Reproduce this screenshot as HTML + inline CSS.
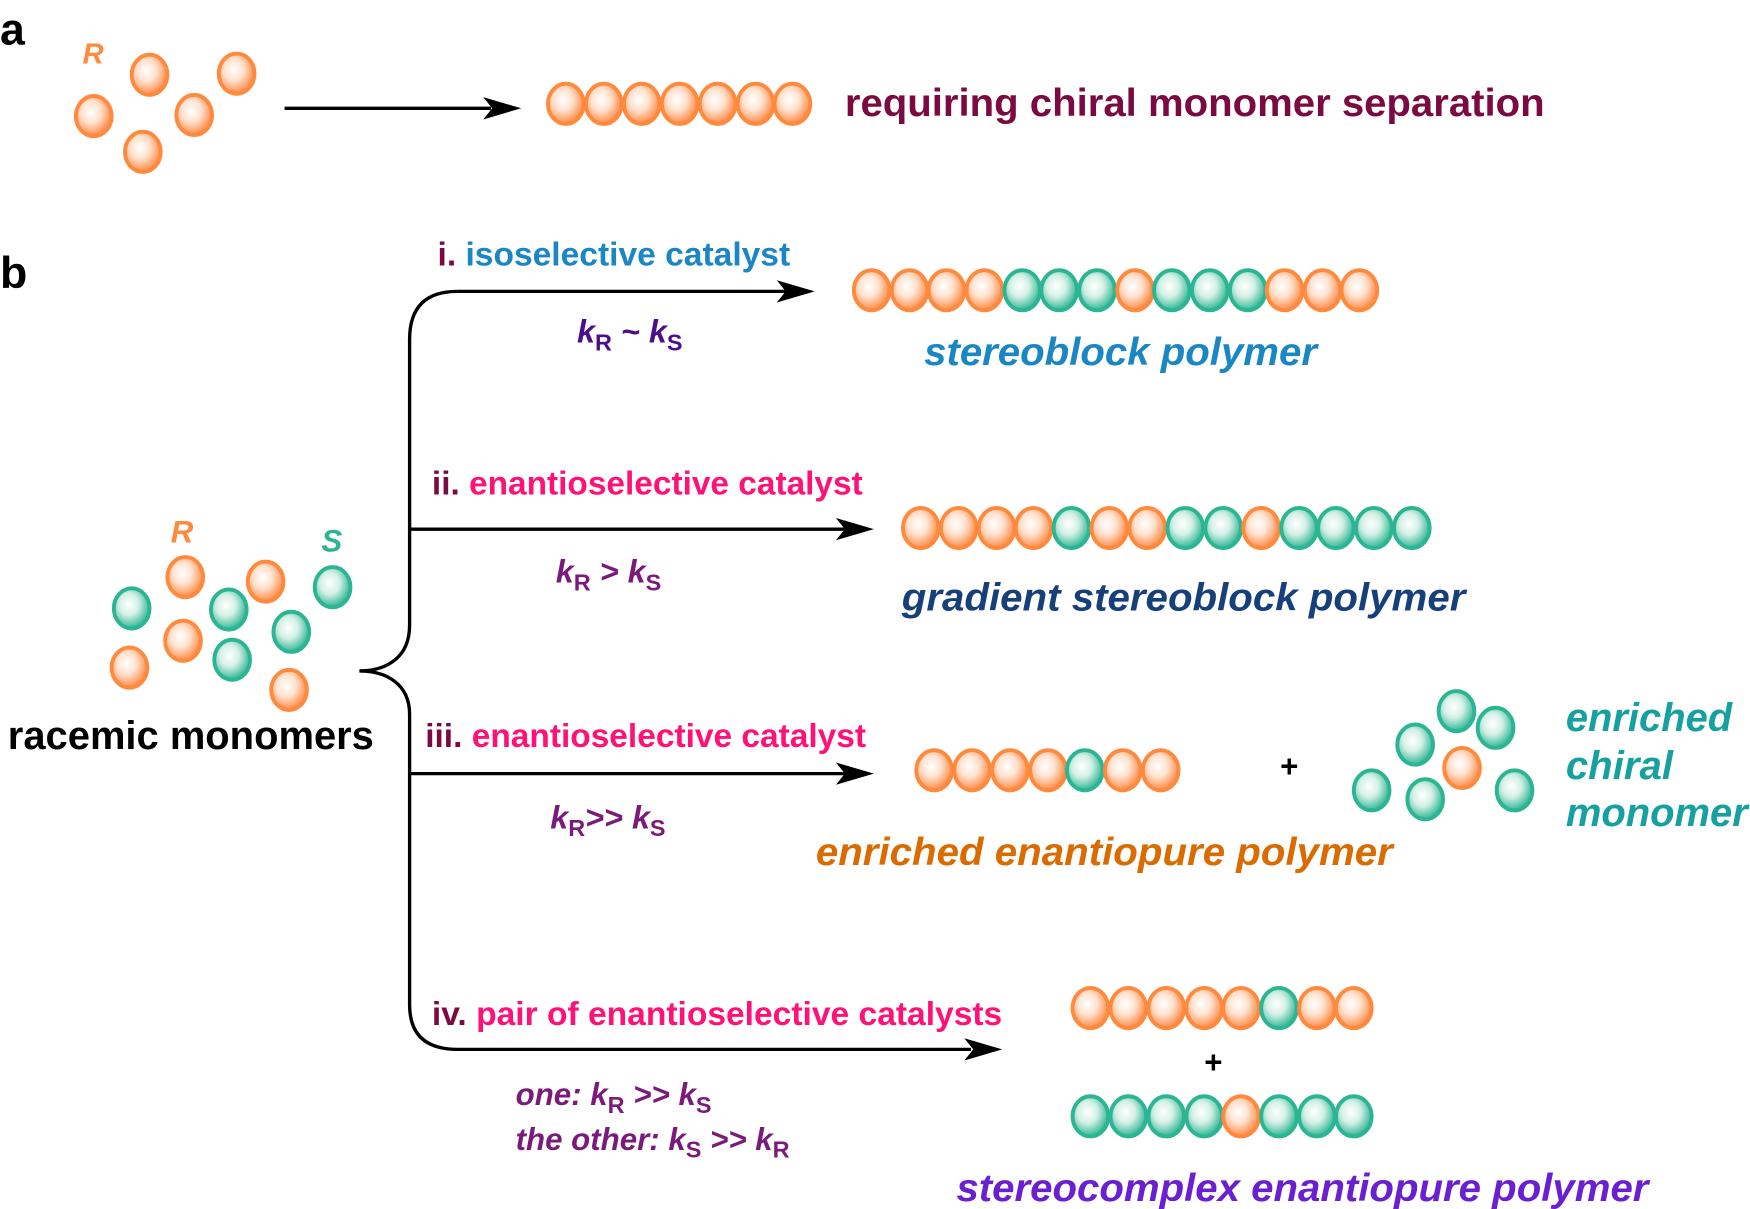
<!DOCTYPE html>
<html><head><meta charset="utf-8"><style>
html,body{margin:0;padding:0;background:#fff;}
svg{display:block;font-family:"Liberation Sans",Arial,sans-serif;font-weight:bold;}
</style></head><body>
<svg width="1750" height="1209" viewBox="0 0 1568 1083" preserveAspectRatio="none" xmlns="http://www.w3.org/2000/svg">
<defs>
<radialGradient id="go" cx="0.42" cy="0.4" r="0.6"><stop offset="0" stop-color="#fff"/><stop offset="0.45" stop-color="#ffe2cf"/><stop offset="1" stop-color="#ff8a45"/></radialGradient>
<radialGradient id="gg" cx="0.42" cy="0.4" r="0.6"><stop offset="0" stop-color="#fff"/><stop offset="0.45" stop-color="#d4f0e6"/><stop offset="1" stop-color="#30b795"/></radialGradient>
<symbol id="o" overflow="visible"><ellipse cx="0" cy="0" rx="16" ry="18" fill="url(#go)" stroke="#ff8a3d" stroke-width="3.5"/></symbol>
<symbol id="g" overflow="visible"><ellipse cx="0" cy="0" rx="16" ry="18" fill="url(#gg)" stroke="#2bb592" stroke-width="3.5"/></symbol>
</defs>

<!-- a -->
<text x="0" y="40" font-size="40" fill="#000">a</text>
<text x="74" y="57" font-size="26" font-style="italic" fill="#ff8a3d">R</text>
<use href="#o" x="134" y="67"/><use href="#o" x="212" y="66"/><use href="#o" x="84" y="104"/><use href="#o" x="174" y="103"/><use href="#o" x="128" y="136"/>
<line x1="255" y1="97" x2="440" y2="97" stroke="#000" stroke-width="3"/>
<polygon points="467,97 433,87 441,97 433,107" fill="#000"/>
<g>
<use href="#o" x="507" y="93"/><use href="#o" x="541" y="93"/><use href="#o" x="575" y="93"/><use href="#o" x="609" y="93"/><use href="#o" x="643" y="93"/><use href="#o" x="677" y="93"/><use href="#o" x="710" y="93"/>
</g>
<text x="757" y="104" font-size="35" fill="#7a0a3f" textLength="627" lengthAdjust="spacingAndGlyphs">requiring chiral monomer separation</text>

<!-- b -->
<text x="0" y="258" font-size="40" fill="#000">b</text>
<path d="M410,261 Q367,261 367,304 L367,560 C367,590 345,601 322,601 C345,601 367,612 367,640 L367,900 Q367,940 410,940 L870,940" fill="none" stroke="#000" stroke-width="3"/>
<line x1="410" y1="261" x2="705" y2="261" stroke="#000" stroke-width="3"/>
<polygon points="730,261 696,251 704,261 696,271" fill="#000"/>
<line x1="367" y1="474" x2="758" y2="474" stroke="#000" stroke-width="3"/>
<polygon points="783,474 749,464 757,474 749,484" fill="#000"/>
<line x1="367" y1="693" x2="758" y2="693" stroke="#000" stroke-width="3"/>
<polygon points="783,693 749,683 757,693 749,703" fill="#000"/>
<polygon points="898,940 864,930 872,940 864,950" fill="#000"/>

<!-- racemic -->
<text x="153" y="486" font-size="28" font-style="italic" fill="#ff8a3d">R</text>
<text x="288" y="494" font-size="28" font-style="italic" fill="#2bb592">S</text>
<use href="#g" x="118" y="545"/><use href="#o" x="166" y="517"/><use href="#g" x="205" y="546"/><use href="#o" x="238" y="521"/><use href="#g" x="298" y="526"/>
<use href="#o" x="164" y="574"/><use href="#g" x="261" y="566"/><use href="#o" x="116" y="598"/><use href="#g" x="208" y="591"/><use href="#o" x="259" y="618"/>
<text x="7" y="671" font-size="36" fill="#000" textLength="328" lengthAdjust="spacingAndGlyphs">racemic monomers</text>

<!-- i -->
<text x="392" y="238" font-size="30" textLength="316" lengthAdjust="spacingAndGlyphs"><tspan fill="#7a0a3f">i. </tspan><tspan fill="#1a86c4">isoselective catalyst</tspan></text>
<text x="517" y="307" font-size="29" fill="#4b0f8c" font-style="italic">k<tspan font-size="21" font-style="normal" dy="7">R</tspan><tspan dy="-7"> ~ </tspan>k<tspan font-size="21" font-style="normal" dy="7">S</tspan></text>
<g>
<use href="#o" x="781" y="260"/><use href="#o" x="815" y="260"/><use href="#o" x="848" y="260"/><use href="#o" x="882" y="260"/><use href="#g" x="916" y="260"/><use href="#g" x="949" y="260"/><use href="#g" x="983" y="260"/><use href="#o" x="1017" y="260"/><use href="#g" x="1050" y="260"/><use href="#g" x="1084" y="260"/><use href="#g" x="1118" y="260"/><use href="#o" x="1151" y="260"/><use href="#o" x="1185" y="260"/><use href="#o" x="1218" y="260"/>
</g>
<text x="828" y="327" font-size="35" font-style="italic" fill="#1a86c4" textLength="352" lengthAdjust="spacingAndGlyphs">stereoblock polymer</text>

<!-- ii -->
<text x="387" y="443" font-size="30" textLength="386" lengthAdjust="spacingAndGlyphs"><tspan fill="#7a0a3f">ii. </tspan><tspan fill="#ff1177">enantioselective catalyst</tspan></text>
<text x="498" y="522" font-size="29" fill="#7a1a7a" font-style="italic">k<tspan font-size="21" font-style="normal" dy="7">R</tspan><tspan dy="-7">  &gt; </tspan>k<tspan font-size="21" font-style="normal" dy="7">S</tspan></text>
<g>
<use href="#o" x="825" y="473"/><use href="#o" x="859" y="473"/><use href="#o" x="893" y="473"/><use href="#o" x="926" y="473"/><use href="#g" x="960" y="473"/><use href="#o" x="994" y="473"/><use href="#o" x="1028" y="473"/><use href="#g" x="1062" y="473"/><use href="#g" x="1096" y="473"/><use href="#o" x="1130" y="473"/><use href="#g" x="1164" y="473"/><use href="#g" x="1197" y="473"/><use href="#g" x="1231" y="473"/><use href="#g" x="1265" y="473"/>
</g>
<text x="808" y="547" font-size="35" font-style="italic" fill="#17407a" textLength="505" lengthAdjust="spacingAndGlyphs">gradient stereoblock polymer</text>

<!-- iii -->
<text x="381" y="669" font-size="30" textLength="395" lengthAdjust="spacingAndGlyphs"><tspan fill="#7a0a3f">iii. </tspan><tspan fill="#ff1177">enantioselective catalyst</tspan></text>
<text x="493" y="742" font-size="29" fill="#7a1a7a" font-style="italic">k<tspan font-size="21" font-style="normal" dy="7">R</tspan><tspan dy="-7">&gt;&gt; </tspan>k<tspan font-size="21" font-style="normal" dy="7">S</tspan></text>
<g>
<use href="#o" x="837" y="690"/><use href="#o" x="871" y="690"/><use href="#o" x="905" y="690"/><use href="#o" x="939" y="690"/><use href="#g" x="972" y="690"/><use href="#o" x="1006" y="690"/><use href="#o" x="1040" y="690"/>
</g>
<text x="1147" y="696" font-size="28" fill="#000">+</text>
<use href="#g" x="1305" y="637"/><use href="#g" x="1340" y="652"/><use href="#g" x="1268" y="667"/><use href="#o" x="1310" y="688"/><use href="#g" x="1229" y="708"/><use href="#g" x="1277" y="716"/><use href="#g" x="1357" y="708"/>
<g font-size="36" font-style="italic" fill="#17a0a0" lengthAdjust="spacingAndGlyphs">
<text x="1403" y="655" textLength="149" lengthAdjust="spacingAndGlyphs">enriched</text><text x="1403" y="698" textLength="96" lengthAdjust="spacingAndGlyphs">chiral</text><text x="1403" y="740" textLength="163" lengthAdjust="spacingAndGlyphs">monomer</text>
</g>
<text x="731" y="775" font-size="35" font-style="italic" fill="#d96b00" textLength="517" lengthAdjust="spacingAndGlyphs">enriched enantiopure polymer</text>

<!-- iv -->
<text x="387" y="918" font-size="30" textLength="511" lengthAdjust="spacingAndGlyphs"><tspan fill="#7a0a3f">iv. </tspan><tspan fill="#ff1177">pair of enantioselective catalysts</tspan></text>
<g font-size="28" fill="#7a1a7a" font-style="italic">
<text x="462" y="990">one: k<tspan font-size="21" font-style="normal" dy="7">R</tspan><tspan dy="-7"> &gt;&gt; </tspan>k<tspan font-size="21" font-style="normal" dy="7">S</tspan></text>
<text x="462" y="1030">the other: k<tspan font-size="21" font-style="normal" dy="7">S</tspan><tspan dy="-7"> &gt;&gt; </tspan>k<tspan font-size="21" font-style="normal" dy="7">R</tspan></text>
</g>
<g>
<use href="#o" x="977" y="903"/><use href="#o" x="1011" y="903"/><use href="#o" x="1045" y="903"/><use href="#o" x="1079" y="903"/><use href="#o" x="1112" y="903"/><use href="#g" x="1146" y="903"/><use href="#o" x="1180" y="903"/><use href="#o" x="1213" y="903"/>
<use href="#g" x="977" y="1000"/><use href="#g" x="1011" y="1000"/><use href="#g" x="1045" y="1000"/><use href="#g" x="1079" y="1000"/><use href="#o" x="1112" y="1000"/><use href="#g" x="1146" y="1000"/><use href="#g" x="1180" y="1000"/><use href="#g" x="1213" y="1000"/>
</g>
<text x="1079" y="961" font-size="28" fill="#000">+</text>
<text x="857" y="1076" font-size="35" font-style="italic" fill="#6a1fd0" textLength="620" lengthAdjust="spacingAndGlyphs">stereocomplex enantiopure polymer</text>
</svg>
</body></html>
